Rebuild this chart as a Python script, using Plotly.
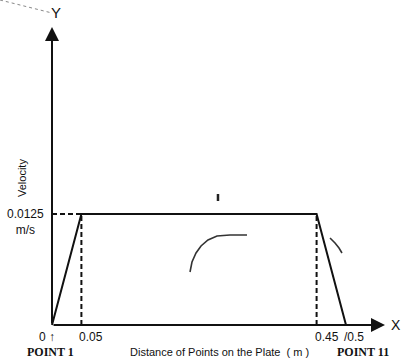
import plotly.graph_objects as go

# Velocity profile along the plate (trapezoid)
distance = [0.0, 0.05, 0.45, 0.5]          # m
velocity = [0.0, 0.0125, 0.0125, 0.0]      # m/s

tick_values = [0.05, 0.45, 0.5]
tick_labels = ["0.05", "0.45", "/0.5"]
peak_velocity = 0.0125
peak_label = "0.0125<br>m/s"
dashed_x = [0.05, 0.45]

W, H = 403, 360
# pixel scale of the drawing
PX_X = 588.0
PX_Y = 8880.0
ORIGIN_PX = (52, 325)
x0 = -ORIGIN_PX[0] / PX_X
x1 = x0 + W / PX_X
y1 = ORIGIN_PX[1] / PX_Y
y0 = y1 - H / PX_Y

x_tip = (385 - ORIGIN_PX[0]) / PX_X
y_tip = (ORIGIN_PX[1] - 27) / PX_Y

SANS = "Liberation Sans, Arial, sans-serif"
SERIF = "Liberation Serif, Times New Roman, serif"

fig = go.Figure()

fig.add_trace(go.Scatter(
    x=distance, y=velocity, mode="lines",
    line=dict(color="#111111", width=2),
    hoverinfo="skip", showlegend=False,
))

shapes = []
# dashed guides
shapes.append(dict(type="line", xref="x", yref="y", x0=0, x1=dashed_x[0],
                   y0=peak_velocity, y1=peak_velocity,
                   line=dict(color="#111111", width=2, dash="5px,3px")))
for dx in dashed_x:
    shapes.append(dict(type="line", xref="x", yref="y", x0=dx, x1=dx,
                       y0=0, y1=peak_velocity,
                       line=dict(color="#111111", width=2, dash="5px,3px")))


def px_path(points):
    """Build an SVG path in paper coordinates from pixel points."""
    parts = []
    for i, (px, py) in enumerate(points):
        cmd = "M" if i == 0 else "L"
        parts.append(f"{cmd}{px / W:.4f},{1 - py / H:.4f}")
    return " ".join(parts)


# stray pen strokes on the sheet
shapes.append(dict(type="path", xref="paper", yref="paper",
                   path=px_path([(190, 272), (192, 262), (196, 253), (201, 246),
                                 (208, 240), (217, 236), (230, 235), (247, 235)]),
                   line=dict(color="#333333", width=1.6)))
shapes.append(dict(type="path", xref="paper", yref="paper",
                   path=px_path([(330, 238), (335, 243), (339, 248), (342, 253)]),
                   line=dict(color="#333333", width=1.6)))
shapes.append(dict(type="path", xref="paper", yref="paper",
                   path=px_path([(218, 194), (218, 201)]),
                   line=dict(color="#222222", width=2.5)))
shapes.append(dict(type="path", xref="paper", yref="paper",
                   path=px_path([(0, 0), (52, 13)]),
                   line=dict(color="#888888", width=1, dash="dot")))

annotations = []
# axes with arrowheads
annotations.append(dict(x=x_tip, y=0, ax=0, ay=0, xref="x", yref="y",
                        axref="x", ayref="y", showarrow=True, arrowhead=2,
                        arrowsize=1.4, arrowwidth=2, arrowcolor="#111111", text=""))
annotations.append(dict(x=0, y=y_tip, ax=0, ay=0, xref="x", yref="y",
                        axref="x", ayref="y", showarrow=True, arrowhead=2,
                        arrowsize=1.4, arrowwidth=2, arrowcolor="#111111", text=""))

annotations.append(dict(x=0, y=y_tip, xref="x", yref="y", text="Y",
                        showarrow=False, xshift=4, yshift=15,
                        font=dict(family=SANS, size=15, color="#111111")))
annotations.append(dict(x=x_tip, y=0, xref="x", yref="y", text="X",
                        showarrow=False, xanchor="center", xshift=11, yshift=0,
                        font=dict(family=SANS, size=14, color="#111111")))

# tick labels
annotations.append(dict(x=0, y=0, xref="x", yref="y", text="0 \u2191",
                        showarrow=False, xanchor="center", xshift=-5, yshift=-12,
                        font=dict(family=SANS, size=12, color="#111111")))
for tv, tl in zip(tick_values, tick_labels):
    annotations.append(dict(x=tv, y=0, xref="x", yref="y", text=tl,
                            showarrow=False, xanchor="left", xshift=-4, yshift=-12,
                            font=dict(family=SANS, size=12, color="#111111")))

annotations.append(dict(x=0, y=peak_velocity, xref="x", yref="y", text=peak_label,
                        showarrow=False, xanchor="center", xshift=-27, yshift=-8,
                        font=dict(family=SANS, size=12, color="#111111")))

annotations.append(dict(x=14 / W, y=1 - 178 / H, xref="paper", yref="paper",
                        text="Velocity", textangle=-90, showarrow=False,
                        font=dict(family=SANS, size=11, color="#111111")))

annotations.append(dict(x=0, y=0, xref="x", yref="y", text="<b>POINT 1</b>",
                        showarrow=False, xshift=-2, yshift=-27,
                        font=dict(family=SERIF, size=12, color="#111111")))
annotations.append(dict(x=distance[-1], y=0, xref="x", yref="y", text="<b>POINT 11</b>",
                        showarrow=False, xshift=17, yshift=-27,
                        font=dict(family=SERIF, size=12, color="#111111")))
annotations.append(dict(x=0.5 * (distance[0] + distance[-1]), y=0, xref="x", yref="y",
                        text="Distance of Points on the Plate  ( m )",
                        showarrow=False, xshift=20, yshift=-27,
                        font=dict(family=SANS, size=11, color="#111111")))

fig.update_layout(
    width=W, height=H,
    margin=dict(l=0, r=0, t=0, b=0),
    paper_bgcolor="white", plot_bgcolor="white",
    xaxis=dict(range=[x0, x1], visible=False, fixedrange=True),
    yaxis=dict(range=[y0, y1], visible=False, fixedrange=True),
    shapes=shapes, annotations=annotations,
    showlegend=False,
)

fig.write_html("out.html", config={"displayModeBar": False})
